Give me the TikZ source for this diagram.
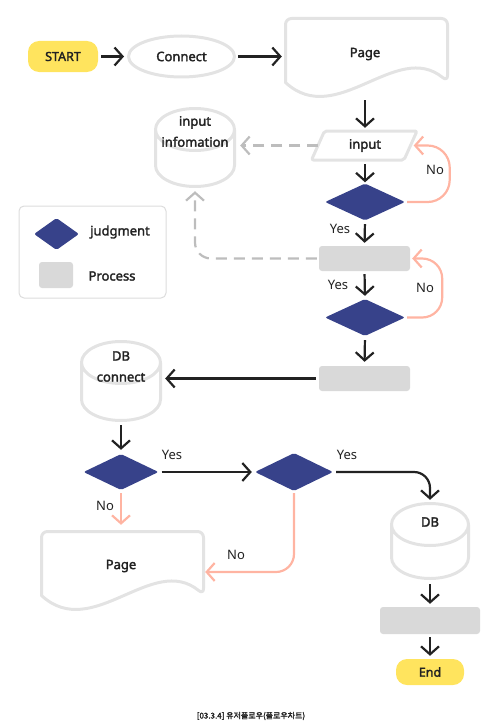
\documentclass[tikz,border=0pt]{standalone}
\usepackage{fontspec}
\setmainfont{Noto Sans}[AutoFakeBold=2.2]
\newfontfamily\krfont{Noto Sans CJK KR}[AutoFakeBold=2]
\usetikzlibrary{arrows.meta,shapes.geometric,calc}
\definecolor{yel}{HTML}{FFE45E}
\definecolor{navy}{HTML}{37428A}
\definecolor{outl}{HTML}{E3E3E3}
\definecolor{procg}{HTML}{D9D9D9}
\definecolor{dashg}{HTML}{BDBDBD}
\definecolor{salmon}{HTML}{FFB4A2}
\definecolor{ink}{HTML}{222222}
\definecolor{legb}{HTML}{DCDCDC}
\newcommand\docpath[2]{\draw[outline,shift={(#1,#2)}] (0,64) [rounded corners=6pt] -- (0,0) -- (162,0) -- (162,63) [sharp corners] .. controls (111,21) and (51,111) .. (0,64) -- cycle;}
\newcommand\cylpath[5]{\draw[outline] (#1-#4,#2+#5) arc[start angle=180,end angle=-180,x radius=#4pt,y radius=#5pt] -- (#1-#4,#3-#5) arc[start angle=180,end angle=360,x radius=#4pt,y radius=#5pt] -- (#1+#4,#2+#5);}
\begin{document}
\begin{tikzpicture}[x=1pt,y=-1pt,
  outline/.style={draw=outl,line width=3pt,line join=round},
  bold13/.style={font=\fontsize{13}{21}\selectfont\bfseries,text=ink},
  reg13/.style={font=\fontsize{13}{15}\selectfont,text=ink},
  box/.style={inner sep=0pt,draw=none},
  term/.style={box,fill=yel,rounded corners=11pt,font=\fontsize{12.5}{15}\selectfont\bfseries,text=ink},
  judg/.style={box,diamond,fill=navy,rounded corners=2pt},
  proc/.style={box,rectangle,fill=procg,rounded corners=3pt},
  tip/.style={-{Straight Barb[length=8pt,width=18pt]}},
  arr/.style={draw=ink,line width=2.2pt,tip},
  salm/.style={draw=salmon,line width=2.2pt,tip},
  dsh/.style={draw=dashg,line width=2.2pt,dash pattern=on 11pt off 7pt,tip}]
\useasboundingbox (0,0) rectangle (500,725);
% legend
\node[draw=legb,line width=1pt,rounded corners=5pt,minimum width=147pt,minimum height=92pt] (legend) at (92.5,252) {};
\node[judg,minimum width=45pt,minimum height=32pt] (legd) at (56.5,234) {};
\node[bold13] (legdt) at (120,232) {judgment};
\node[proc,minimum width=34pt,minimum height=26pt] (legp) at (56,275) {};
\node[bold13] (legpt) at (112,276) {Process};
% shapes
\node[term,minimum width=70pt,minimum height=31pt] (start) at (63,56.5) {START};
\node[ellipse,outline,inner sep=0pt,minimum width=106pt,minimum height=41pt,bold13] (connect) at (181.5,56.5) {Connect};
\docpath{285.5}{18.5}
\node[box,bold13,minimum width=162pt,minimum height=72pt] (page1) at (365,54) {Page};
\draw[outline,rounded corners=2pt] (311.5,160) -- (324.5,131) -- (417,131) -- (404,160) -- cycle;
\node[box,bold13,minimum width=107pt,minimum height=31pt] (input) at (365,145.5) {input};
\cylpath{195}{108.5}{186.5}{39.5}{21}
\node[box,minimum width=82pt,minimum height=81pt] (info) at (195,147.5) {};
\node[bold13,align=center,inner sep=0pt] (infot) at (195,131.5) {input\\infomation};
\node[judg,minimum width=80pt,minimum height=37pt] (d1) at (365,202) {};
\node[proc,minimum width=91pt,minimum height=25pt] (p1) at (364.5,258.5) {};
\node[judg,minimum width=80pt,minimum height=37pt] (d2) at (365,317.5) {};
\node[proc,minimum width=91pt,minimum height=25pt] (p2) at (364.5,378.5) {};
\cylpath{121}{341.5}{420.5}{39.5}{21}
\node[box,minimum width=82pt,minimum height=82pt] (dbc) at (121,381) {};
\node[bold13,align=center,inner sep=0pt] (dbct) at (121,366.5) {DB\\connect};
\node[judg,minimum width=75pt,minimum height=36pt] (d3) at (121,472) {};
\node[judg,minimum width=78pt,minimum height=38pt] (d4) at (294,472) {};
\docpath{41.5}{531.5}
\node[box,bold13,minimum width=162pt,minimum height=72pt] (page2) at (121,566) {Page};
\cylpath{430}{503.5}{578.5}{38.5}{21}
\node[box,minimum width=80pt,minimum height=78pt] (db) at (430,541) {};
\node[bold13,inner sep=0pt] (dbt) at (430,522) {DB};
\node[proc,minimum width=100pt,minimum height=27pt] (p3) at (430,620.5) {};
\node[term,minimum width=68pt,minimum height=26pt] (end) at (430,672) {End};
% connectors
\draw[arr,shorten <=3pt,shorten >=3pt] (start.east) -- (connect.west);
\draw[arr,shorten <=2pt,shorten >=2pt] (connect.east) -- (connect.east -| page1.west);
\draw[arr,shorten <=10pt,shorten >=2pt] (page1.south) -- (input.north);
\draw[dsh,shorten >=4pt] ($(input.west)+(7,0)$) -- (input.west -| info.east);
\draw[arr,shorten <=3pt,shorten >=1pt] (input.south) -- (d1.north);
\draw[salm,rounded corners=22pt,shorten <=2pt] (d1.east) -| ($(input.east)+(31,0)$) -- ($(input.east)+(-5,0)$);
\node[reg13] (no1) at (435,170) {No};
\draw[arr,shorten <=3.5pt,shorten >=3pt] (d1.south) -- (p1.north);
\node[reg13] (yes1) at (340,229) {Yes};
\draw[dsh,rounded corners=16pt,shorten <=2pt,shorten >=3pt] (p1.west) -| (info.south);
\draw[salm,rounded corners=20pt,shorten <=2pt,shorten >=2pt] (d2.east) -| ($(p1.east)+(32,0)$) -- (p1.east);
\node[reg13] (no2) at (425,288) {No};
\draw[arr,shorten <=3pt,shorten >=3pt] (p1.south) -- (d2.north);
\node[reg13] (yes2) at (338,285) {Yes};
\draw[arr,shorten <=4pt,shorten >=4pt] (d2.south) -- (p2.north);
\draw[arr,shorten <=3pt,shorten >=3pt] (p2.west) -- (p2.west -| dbc.east);
\draw[arr,shorten <=3pt,shorten >=4pt] (dbc.south) -- (d3.north);
\draw[arr,shorten <=3pt,shorten >=3pt] (d3.east) -- (d4.west);
\node[reg13] (yes3) at (172,455) {Yes};
\draw[arr,rounded corners=16pt,shorten <=3pt,shorten >=2pt] (d4.east) -| (db.north);
\node[reg13] (yes4) at (347,455) {Yes};
\draw[salm,shorten <=3pt,shorten >=5pt] (d3.south) -- (page2.north);
\node[reg13] (no3) at (105,506) {No};
\draw[salm,rounded corners=18pt,shorten <=2pt,shorten >=3pt] (d4.south) |- ($(page2.east)+(0,6)$);
\node[reg13] (no4) at (236,555) {No};
\draw[arr,shorten <=4pt,shorten >=3pt] (db.south) -- (p3.north);
\draw[arr,shorten <=3pt,shorten >=3pt] (p3.south) -- (end.north);
\node[font=\krfont\bfseries\fontsize{8}{10}\selectfont,text=ink] (caption) at (251,716) {[03.3.4] 유저플로우(플로우차트)};
\end{tikzpicture}
\end{document}
